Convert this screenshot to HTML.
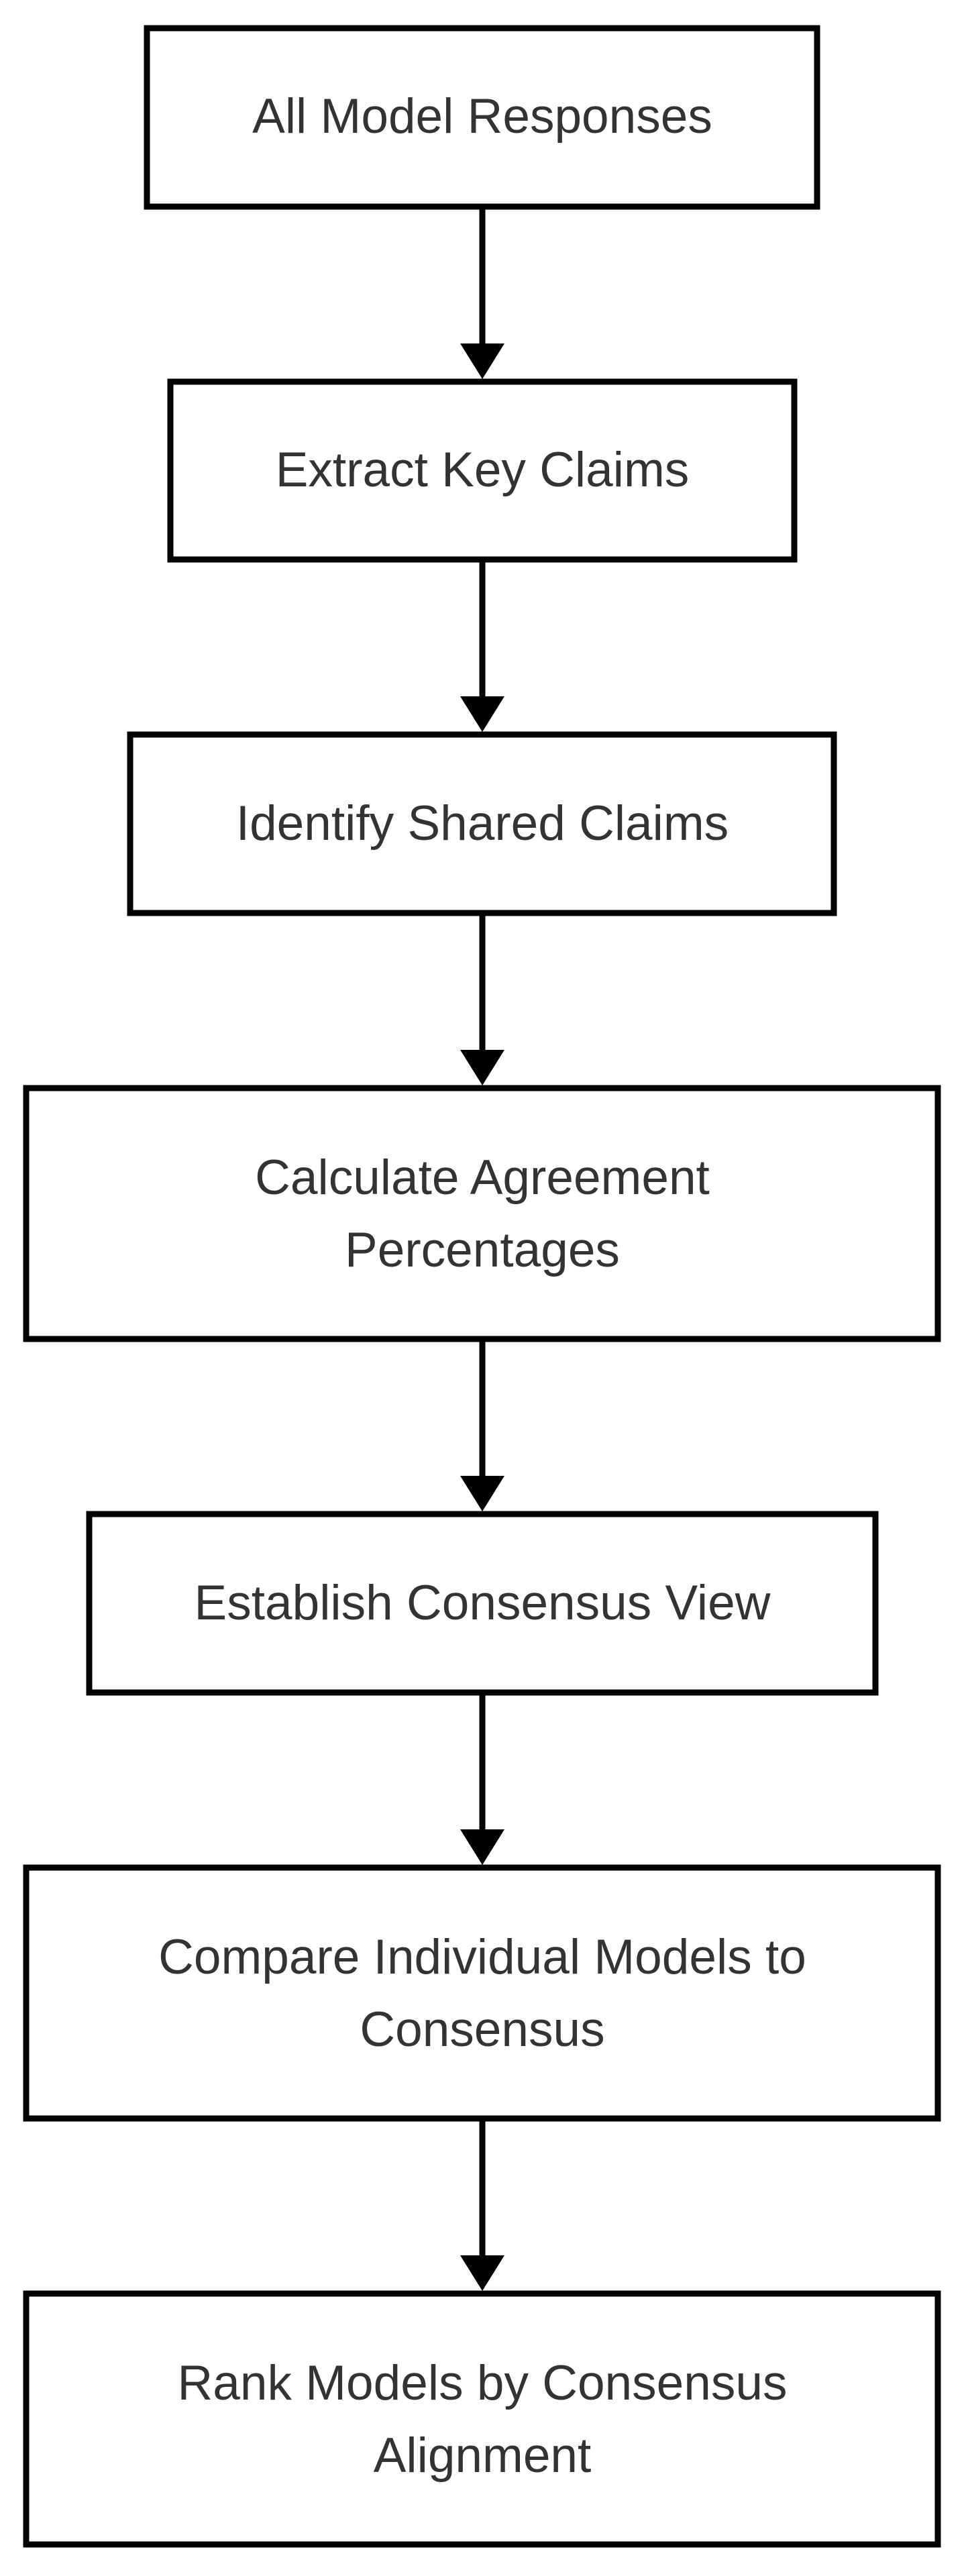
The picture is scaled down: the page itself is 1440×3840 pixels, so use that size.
<!DOCTYPE html>
<html><head><meta charset="utf-8"><style>
html,body{margin:0;padding:0;background:#fff;}
svg{display:block;}
text{font-family:"Liberation Sans",Arial,sans-serif;font-size:73px;fill:#333;text-anchor:middle;}
</style></head><body>
<svg width="1440" height="3840" viewBox="0 0 1440 3840" xmlns="http://www.w3.org/2000/svg">
<rect width="1440" height="3840" fill="#fff"/>
<g fill="#fff" stroke="#000" stroke-width="9">
<rect x="219" y="42" width="999" height="266"/>
<rect x="254" y="569" width="930" height="265"/>
<rect x="194" y="1095" width="1049" height="266"/>
<rect x="39" y="1622" width="1359" height="374"/>
<rect x="133" y="2257" width="1172" height="266"/>
<rect x="39" y="2784" width="1359" height="374"/>
<rect x="39" y="3419" width="1359" height="374"/>
</g>
<g stroke="#000" stroke-width="9">
<line x1="719" y1="312" x2="719" y2="515"/>
<line x1="719" y1="838" x2="719" y2="1041"/>
<line x1="719" y1="1365" x2="719" y2="1568"/>
<line x1="719" y1="2000" x2="719" y2="2203"/>
<line x1="719" y1="2527" x2="719" y2="2730"/>
<line x1="719" y1="3162" x2="719" y2="3365"/>
</g>
<g fill="#000">
<polygon points="686,512 752,512 719,565"/>
<polygon points="686,1038 752,1038 719,1091"/>
<polygon points="686,1565 752,1565 719,1618"/>
<polygon points="686,2200 752,2200 719,2253"/>
<polygon points="686,2727 752,2727 719,2780"/>
<polygon points="686,3362 752,3362 719,3415"/>
</g>
<text x="719" y="198">All Model Responses</text>
<text x="719" y="725">Extract Key Claims</text>
<text x="719" y="1252">Identify Shared Claims</text>
<text x="719" y="1780">Calculate Agreement</text>
<text x="719" y="1888">Percentages</text>
<text x="719" y="2414">Establish Consensus View</text>
<text x="719" y="2942">Compare Individual Models to</text>
<text x="719" y="3050">Consensus</text>
<text x="719" y="3577">Rank Models by Consensus</text>
<text x="719" y="3685">Alignment</text>
</svg>
</body></html>
